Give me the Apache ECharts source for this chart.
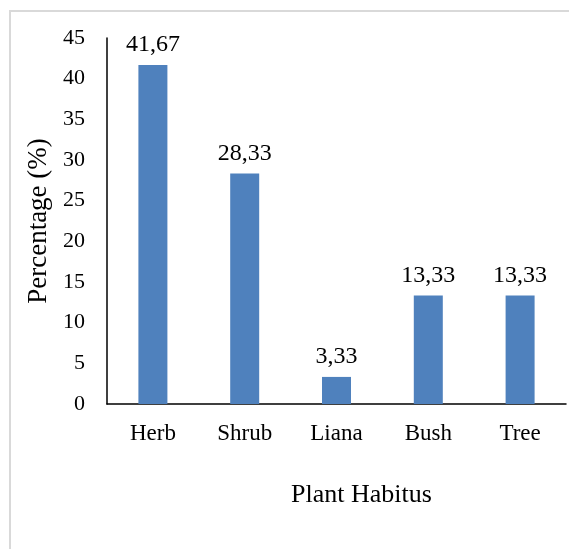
<!DOCTYPE html>
<html>
<head>
<meta charset="utf-8">
<script src="https://cdn.jsdelivr.net/npm/echarts@6/dist/echarts.min.js"></script>
<style>
  html, body { margin: 0; padding: 0; background: #fff; }
  #chart { width: 569px; height: 549px; }
</style>
</head>
<body>
<div id="chart"></div>
<script>
// Plant habitus categories and their share (%)
const categories = ['Herb', 'Shrub', 'Liana', 'Bush', 'Tree'];
const percentages = [41.67, 28.33, 3.33, 13.33, 13.33];
const yTicks = { min: 0, max: 45, interval: 5 };

const serif = '"Liberation Serif", "Times New Roman", serif';
const chart = echarts.init(document.getElementById('chart'), null, { renderer: 'canvas' });

chart.setOption({
  backgroundColor: '#ffffff',
  animation: false,
  graphic: [
    {
      type: 'rect',
      shape: { x: 10, y: 11, width: 700, height: 700 },
      style: { fill: 'none', stroke: '#d9d9d9', lineWidth: 2 },
      silent: true
    },
    {
      type: 'text',
      left: 291,
      top: 482,
      style: { text: 'Plant Habitus', font: '26px ' + serif, fill: '#000' }
    }
  ],
  grid: { left: 107, right: 3, top: 38, bottom: 145, containLabel: false },
  xAxis: {
    type: 'category',
    data: categories,
    axisLine: { lineStyle: { color: '#000', width: 1.5 } },
    axisTick: { show: false },
    axisLabel: { color: '#000', fontFamily: serif, fontSize: 23, margin: 18 }
  },
  yAxis: {
    type: 'value',
    min: yTicks.min,
    max: yTicks.max,
    interval: yTicks.interval,
    name: 'Percentage (%)',
    nameLocation: 'middle',
    nameGap: 53,
    nameTextStyle: { color: '#000', fontFamily: serif, fontSize: 27 },
    axisLine: { show: true, lineStyle: { color: '#000', width: 1.5 } },
    axisTick: { show: false },
    splitLine: { show: false },
    axisLabel: { color: '#000', fontFamily: serif, fontSize: 22, margin: 22 }
  },
  series: [{
    type: 'bar',
    data: percentages,
    barWidth: 29,
    itemStyle: { color: '#4f81bd' },
    label: {
      show: true,
      position: 'top',
      distance: 8,
      color: '#000',
      fontFamily: serif,
      fontSize: 24,
      formatter: p => p.value.toFixed(2).replace('.', ',')
    }
  }]
});
</script>
</body>
</html>
